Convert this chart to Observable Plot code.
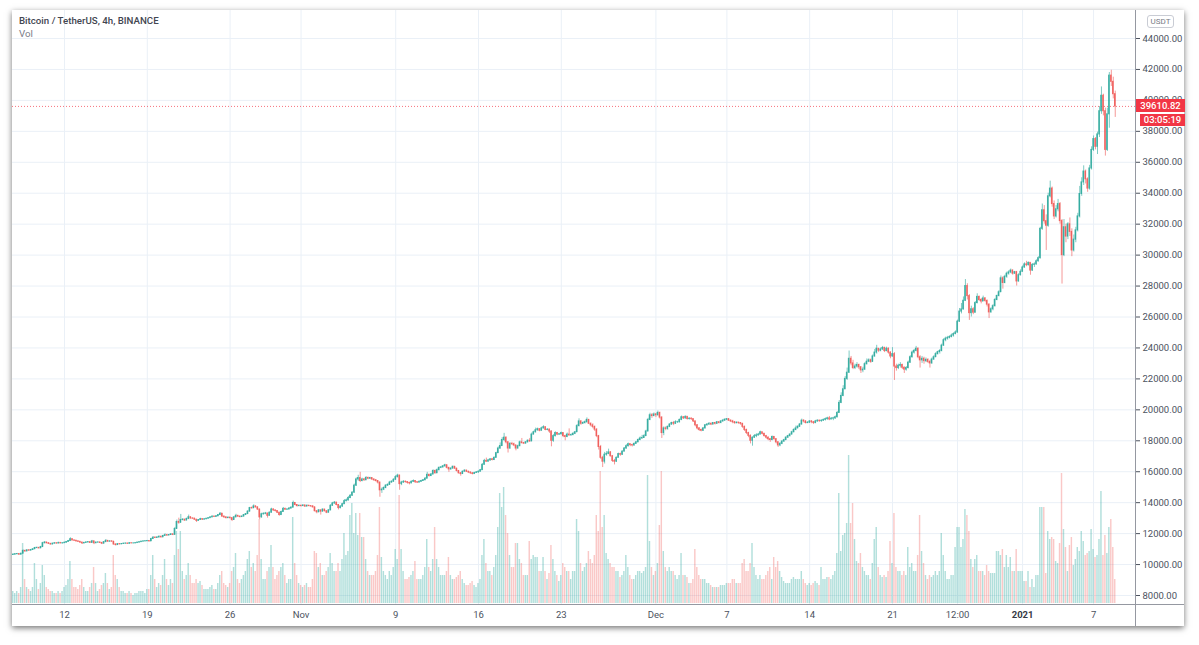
<!DOCTYPE html>
<html>
<head>
<meta charset="utf-8">
<script src="https://cdn.jsdelivr.net/npm/d3@7"></script>
<script src="https://cdn.jsdelivr.net/npm/@observablehq/plot@0.6"></script>
<style>
  html, body { margin:0; padding:0; background:#ffffff; }
  body { width:1199px; height:645px; position:relative; overflow:hidden; font-family: Roboto, "Noto Sans", Arial, sans-serif; }
  #card { position:absolute; left:12px; top:10px; width:1172px; height:616px; background:#fff; box-shadow: 0 2px 6px rgba(0,0,0,0.55); }
  .layer { position:absolute; left:0; top:0; width:1199px; height:645px; }
  .layer svg { background: transparent !important; max-width:none !important; display:block; }
  #axisLineV { position:absolute; left:1135px; top:10px; width:1px; height:616px; background:#9598a1; }
  #axisLineH { position:absolute; left:12px; top:604px; width:1172px; height:1px; background:#9598a1; }
  #title { position:absolute; left:19px; top:15px; font-size:9.7px; color:#434651; font-weight:500; white-space:nowrap; }
  #volLabel { position:absolute; left:19px; top:28px; font-size:9.7px; color:#787b86; }
  #usdt { position:absolute; left:1147px; top:15px; width:25px; height:11px; border:1px solid #c9ccd4; border-radius:3px; font-size:8px; line-height:11px; color:#787b86; text-align:center; background:#fff; }
  .tag { position:absolute; background:#f23645; color:#fff; font-size:9.5px; font-weight:500; text-align:center; white-space:nowrap; }
</style>
</head>
<body>
<div id="card"></div>
<div id="gridLayer" class="layer"></div>
<div id="volLayer" class="layer"></div>
<div id="axisLineV"></div>
<div id="axisLineH"></div>
<div id="priceLayer" class="layer"></div>
<div id="title">Bitcoin / TetherUS, 4h, BINANCE</div>
<div id="volLabel">Vol</div>
<div id="usdt">USDT</div>
<script>
// ---------------- data ----------------
const startTime = "2020-10-07T16:00:00Z"; // first 4h bar
const firstOpen = 10620;
const lastPrice = 39610.82;
const countdown = "03:05:19";

const closes = [
// Oct 7
10640,10670,
// Oct 8
10680,10640,10700,10880,10850,10920,
// Oct 9
10900,10940,10990,11070,11080,11050,
// Oct 10
11130,11380,11420,11380,11340,11300,
// Oct 11
11350,11380,11360,11400,11370,11380,
// Oct 12
11410,11460,11520,11640,11560,11540,
// Oct 13
11500,11470,11420,11370,11400,11430,
// Oct 14
11450,11400,11500,11380,11420,11430,
// Oct 15
11400,11350,11450,11530,11480,11500,
// Oct 16
11480,11300,11260,11320,11310,11330,
// Oct 17
11350,11360,11340,11380,11370,11370,
// Oct 18
11390,11420,11450,11480,11500,11510,
// Oct 19
11520,11500,11650,11740,11720,11750,
// Oct 20
11800,11760,11850,11900,11880,11910,
// Oct 21
11950,11920,12300,12750,12700,12880,
// Oct 22
12900,12850,12950,13060,12980,12970,
// Oct 23
12900,12820,12880,12940,12900,12930,
// Oct 24
12960,13000,13050,13100,13080,13120,
// Oct 25
13200,13290,13100,13050,13000,13030,
// Oct 26
13000,12880,13050,13150,13100,13070,
// Oct 27
13100,13200,13260,13420,13650,13640,
// Oct 28
13760,13700,13560,13050,13250,13280,
// Oct 29
13300,13150,13350,13560,13500,13460,
// Oct 30
13350,13200,13400,13600,13550,13560,
// Oct 31
13620,13680,13980,13850,13780,13800,
// Nov 1
13780,13820,13750,13800,13780,13760,
// Nov 2
13700,13450,13380,13500,13420,13550,
// Nov 3
13450,13350,13500,13800,13950,14000,
// Nov 4
13850,13650,13750,13900,14100,14150,
// Nov 5
14300,14450,14650,15100,15500,15590,
// Nov 6
15400,15500,15450,15600,15550,15590,
// Nov 7
15500,15450,15400,15300,14800,14840,
// Nov 8
14950,15100,15150,15300,15350,15480,
// Nov 9
15650,15750,15200,15300,15350,15330,
// Nov 10
15280,15250,15350,15400,15320,15300,
// Nov 11
15350,15400,15450,15550,15800,15720,
// Nov 12
15820,16050,15900,16100,16250,16280,
// Nov 13
16350,16420,16250,16150,16200,16320,
// Nov 14
16200,16050,15900,15850,16000,16070,
// Nov 15
16000,15950,15900,15850,15920,15960,
// Nov 16
16000,16100,16450,16700,16650,16730,
// Nov 17
16800,16760,16900,17200,17500,17660,
// Nov 18
18050,18200,17900,17500,17800,17780,
// Nov 19
17700,17500,17650,17900,17850,17820,
// Nov 20
17900,18000,17960,18400,18550,18680,
// Nov 21
18750,18650,18800,18880,18700,18720,
// Nov 22
18600,18000,18300,18500,18400,18420,
// Nov 23
18500,18300,18250,18400,18350,18370,
// Nov 24
18450,18550,18950,19250,19100,19150,
// Nov 25
19200,19350,19100,19000,18900,18720,
// Nov 26
18300,17600,16900,16650,17100,17150,
// Nov 27
17250,17000,16700,16650,16900,17140,
// Nov 28
17100,17300,17500,17650,17780,17720,
// Nov 29
17700,17800,17900,18050,18150,18180,
// Nov 30
18300,18600,19350,19650,19600,19700,
// Dec 1
19650,19800,19500,18500,18800,18770,
// Dec 2
18900,19050,19150,19100,19200,19200,
// Dec 3
19350,19520,19450,19550,19400,19430,
// Dec 4
19400,19250,19000,18800,18700,18650,
// Dec 5
18800,19000,19050,19100,19050,19150,
// Dec 6
19100,19200,19150,19250,19300,19360,
// Dec 7
19400,19300,19250,19200,19150,19170,
// Dec 8
19150,19100,18900,18700,18500,18320,
// Dec 9
18000,18200,18300,18350,18400,18550,
// Dec 10
18450,18300,18200,18100,18050,18250,
// Dec 11
18100,17900,17700,17800,17950,18040,
// Dec 12
18200,18300,18400,18550,18700,18800,
// Dec 13
18900,19050,19300,19250,19150,19170,
// Dec 14
19250,19200,19150,19250,19300,19270,
// Dec 15
19300,19350,19400,19450,19380,19430,
// Dec 16
19450,19520,19800,20450,20900,21330,
// Dec 17
22000,22400,23300,23000,22700,22800,
// Dec 18
22900,22750,22550,22600,22950,23110,
// Dec 19
23200,23100,23450,23700,23950,23820,
// Dec 20
23900,24000,23800,23950,23700,23450,
// Dec 21
23600,22800,22700,22850,22900,22720,
// Dec 22
22600,22700,23050,23400,23700,23810,
// Dec 23
23950,23400,23200,23300,23150,23230,
// Dec 24
23100,23000,23250,23400,23600,23730,
// Dec 25
23800,24150,24500,24600,24650,24710,
// Dec 26
24800,24900,25000,25700,26350,26490,
// Dec 27
27050,28000,27350,26250,26500,26280,
// Dec 28
26900,27300,27100,27000,27200,27040,
// Dec 29
26800,26300,26500,26700,27100,27360,
// Dec 30
27600,28500,28200,28600,28800,28880,
// Dec 31
29000,28800,28900,28300,28700,28920,
// Jan 1
29200,29400,29350,29500,29000,29370,
// Jan 2
29400,29600,29800,31700,32900,32190,
// Jan 3
31900,33800,34300,33300,32500,32960,
// Jan 4
33300,32200,30000,31800,31200,31990,
// Jan 5
31500,30300,31000,31600,32500,33950,
// Jan 6
34700,35400,34900,34300,35600,36800,
// Jan 7
37500,37000,37800,39300,40300,39300,
// Jan 8
36800,39100,41600,41200,40400,39610.82
];

const highs = [
// Oct 7
10690,10700,
// Oct 8
10720,10700,10730,10950,10930,10950,
// Oct 9
10960,10980,11020,11110,11120,11100,
// Oct 10
11180,11440,11490,11450,11410,11360,
// Oct 11
11380,11410,11400,11440,11420,11410,
// Oct 12
11450,11490,11560,11730,11660,11590,
// Oct 13
11560,11520,11480,11440,11430,11460,
// Oct 14
11480,11470,11560,11520,11450,11460,
// Oct 15
11450,11420,11480,11620,11560,11530,
// Oct 16
11530,11490,11330,11360,11350,11360,
// Oct 17
11380,11390,11380,11420,11400,11390,
// Oct 18
11410,11440,11470,11500,11530,11540,
// Oct 19
11560,11550,11700,11800,11780,11790,
// Oct 20
11840,11820,11880,11990,11950,11940,
// Oct 21
12000,11980,12400,12880,13000,13240,
// Oct 22
12970,12930,13000,13200,13080,13020,
// Oct 23
12990,12920,12910,12990,12960,12960,
// Oct 24
12990,13030,13090,13140,13130,13170,
// Oct 25
13240,13350,13300,13130,13080,13070,
// Oct 26
13060,13020,13100,13250,13180,13130,
// Oct 27
13150,13240,13300,13480,13700,13720,
// Oct 28
13860,13790,13720,13580,13320,13340,
// Oct 29
13370,13320,13400,13640,13600,13530,
// Oct 30
13480,13380,13450,13690,13640,13600,
// Oct 31
13680,13720,14100,14000,13880,13840,
// Nov 1
13830,13860,13840,13850,13830,13800,
// Nov 2
13800,13710,13480,13560,13530,13600,
// Nov 3
13580,13470,13560,13870,14020,14070,
// Nov 4
14030,13880,13800,13960,14200,14240,
// Nov 5
14400,14520,14700,15200,15600,15770,
// Nov 6
15960,15580,15560,15680,15650,15640,
// Nov 7
15620,15540,15500,15430,15330,14950,
// Nov 8
15020,15160,15220,15380,15420,15550,
// Nov 9
15750,15840,15780,15380,15420,15400,
// Nov 10
15360,15320,15400,15470,15420,15360,
// Nov 11
15400,15450,15500,15620,15960,15830,
// Nov 12
15880,16120,16100,16180,16300,16340,
// Nov 13
16400,16480,16440,16280,16260,16360,
// Nov 14
16340,16220,16080,15950,16050,16120,
// Nov 15
16100,16030,15980,15940,15960,16000,
// Nov 16
16050,16150,16520,16800,16880,16800,
// Nov 17
16850,16860,16950,17260,17600,17860,
// Nov 18
18200,18480,18250,17950,17880,17900,
// Nov 19
17850,17720,17720,17980,18150,17900,
// Nov 20
17950,18060,18150,18500,18620,18820,
// Nov 21
18820,18780,18880,18970,18900,18780,
// Nov 22
18760,18640,18400,18580,18540,18480,
// Nov 23
18560,18520,18360,18500,18770,18440,
// Nov 24
18520,18600,19050,19420,19300,19220,
// Nov 25
19280,19480,19380,19150,19100,18950,
// Nov 26
18780,18350,17700,17000,17250,17300,
// Nov 27
17460,17300,17050,16800,16950,17200,
// Nov 28
17200,17350,17560,17750,17850,17800,
// Nov 29
17780,17850,17960,18120,18250,18350,
// Nov 30
18400,18680,19450,19780,19760,19800,
// Dec 1
19760,19920,19850,19550,18900,18900,
// Dec 2
18950,19100,19200,19250,19300,19260,
// Dec 3
19400,19600,19560,19600,19560,19480,
// Dec 4
19480,19420,19280,19050,18850,18750,
// Dec 5
18850,19050,19100,19170,19140,19170,
// Dec 6
19180,19250,19230,19300,19380,19420,
// Dec 7
19420,19420,19350,19320,19250,19220,
// Dec 8
19200,19180,19120,18950,18750,18550,
// Dec 9
18380,18250,18400,18450,18480,18620,
// Dec 10
18560,18480,18350,18250,18150,18300,
// Dec 11
18270,18150,17950,17880,18000,18100,
// Dec 12
18260,18350,18450,18620,18780,18950,
// Dec 13
18980,19120,19400,19360,19300,19240,
// Dec 14
19300,19300,19250,19320,19350,19330,
// Dec 15
19350,19400,19470,19520,19570,19500,
// Dec 16
19520,19600,19900,20600,21100,21560,
// Dec 17
22150,22700,23800,23450,23200,22950,
// Dec 18
23050,22950,22800,22750,23050,23290,
// Dec 19
23300,23280,23550,23900,24170,23960,
// Dec 20
24000,24100,24050,24050,24000,23750,
// Dec 21
24020,23700,22950,22950,23050,22950,
// Dec 22
22780,22800,23150,23500,23800,23900,
// Dec 23
24100,24000,23500,23450,23400,23350,
// Dec 24
23300,23200,23350,23500,23700,23790,
// Dec 25
23900,24250,24600,24700,24750,24790,
// Dec 26
24900,24980,25100,25800,26550,26870,
// Dec 27
27300,28420,28150,27450,26700,26600,
// Dec 28
27000,27500,27350,27200,27350,27250,
// Dec 29
27100,26850,26600,26800,27200,27410,
// Dec 30
27700,28650,28600,28700,28900,28990,
// Dec 31
29100,29050,28950,28950,28800,29050,
// Jan 1
29300,29500,29600,29550,29500,29450,
// Jan 2
29500,29700,29900,31800,33300,33200,
// Jan 3
32600,34000,34780,34400,33500,33200,
// Jan 4
33600,33400,32300,32300,32000,32100,
// Jan 5
32400,31700,31300,31800,32700,34440,
// Jan 6
35000,35770,35500,35000,35800,37000,
// Jan 7
37700,37600,37950,39600,40870,40400,
// Jan 8
39500,39500,41800,41950,41500,40600
];

const lows = [
// Oct 7
10600,10620,
// Oct 8
10640,10600,10620,10690,10800,10830,
// Oct 9
10860,10880,10920,10970,11020,11010,
// Oct 10
11030,11120,11340,11340,11300,11260,
// Oct 11
11280,11330,11320,11340,11340,11330,
// Oct 12
11360,11390,11440,11500,11530,11490,
// Oct 13
11460,11430,11380,11300,11340,11380,
// Oct 14
11400,11370,11390,11290,11350,11390,
// Oct 15
11360,11290,11330,11420,11440,11450,
// Oct 16
11440,11250,11200,11240,11270,11290,
// Oct 17
11300,11320,11310,11320,11340,11340,
// Oct 18
11350,11370,11400,11430,11460,11470,
// Oct 19
11480,11460,11490,11630,11680,11700,
// Oct 20
11730,11720,11740,11820,11820,11850,
// Oct 21
11880,11870,11900,12280,12600,12680,
// Oct 22
12820,12790,12820,12900,12930,12920,
// Oct 23
12860,12720,12800,12860,12850,12880,
// Oct 24
12900,12940,12990,13030,13040,13060,
// Oct 25
13100,13180,13060,13000,12960,12980,
// Oct 26
12950,12780,12860,13030,13060,13020,
// Oct 27
13040,13080,13180,13240,13400,13580,
// Oct 28
13620,13650,13500,12900,13000,13200,
// Oct 29
13220,13000,13130,13320,13440,13400,
// Oct 30
13300,13130,13190,13380,13500,13500,
// Oct 31
13540,13600,13660,13800,13720,13740,
// Nov 1
13720,13760,13700,13730,13740,13700,
// Nov 2
13650,13400,13280,13350,13200,13400,
// Nov 3
13400,13290,13330,13480,13760,13900,
// Nov 4
13800,13530,13600,13700,13880,14050,
// Nov 5
14100,14260,14400,14600,15050,15380,
// Nov 6
15300,15350,15380,15420,15480,15500,
// Nov 7
15450,15380,15330,15200,14350,14600,
// Nov 8
14780,14900,15050,15120,15260,15330,
// Nov 9
15450,15600,14800,15100,15250,15270,
// Nov 10
15200,15150,15220,15300,15250,15240,
// Nov 11
15280,15320,15380,15420,15540,15660,
// Nov 12
15700,15800,15850,15880,16060,16200,
// Nov 13
16240,16300,16180,15960,16100,16180,
// Nov 14
16150,15980,15850,15710,15820,15980,
// Nov 15
15950,15880,15830,15800,15830,15890,
// Nov 16
15900,15980,16080,16420,16600,16620,
// Nov 17
16680,16700,16720,16880,17180,17450,
// Nov 18
17640,17950,17800,17210,17450,17700,
// Nov 19
17620,17350,17460,17620,17800,17760,
// Nov 20
17780,17860,17900,17940,18380,18500,
// Nov 21
18620,18580,18620,18760,18650,18650,
// Nov 22
18480,17610,17900,18250,18330,18350,
// Nov 23
18380,18200,18000,18200,18300,18300,
// Nov 24
18330,18400,18540,18900,19000,19050,
// Nov 25
19080,19150,19050,18900,18780,18600,
// Nov 26
18200,17400,16800,16270,16500,17000,
// Nov 27
17100,16950,16600,16440,16600,16880,
// Nov 28
17000,17050,17280,17450,17600,17620,
// Nov 29
17600,17650,17780,17880,18000,18100,
// Nov 30
18150,18280,18580,19300,19450,19550,
// Dec 1
19500,19600,19400,18150,18330,18650,
// Dec 2
18680,18850,19000,18980,19050,19120,
// Dec 3
19150,19300,19380,19400,19350,19350,
// Dec 4
19320,19180,18900,18700,18600,18580,
// Dec 5
18600,18760,18950,19000,18980,19020,
// Dec 6
19020,19050,19080,19100,19200,19260,
// Dec 7
19300,19250,19180,19100,19050,19080,
// Dec 8
19050,19000,18800,18600,18400,18200,
// Dec 9
17800,17650,18150,18200,18300,18380,
// Dec 10
18380,18250,18100,18000,17900,18000,
// Dec 11
18050,17800,17570,17620,17750,17900,
// Dec 12
18020,18150,18250,18380,18520,18650,
// Dec 13
18780,18880,19020,19150,19080,19100,
// Dec 14
19120,19100,19050,19100,19200,19200,
// Dec 15
19200,19250,19280,19330,19300,19350,
// Dec 16
19300,19380,19480,19780,20400,20850,
// Dec 17
21300,21900,22350,22850,22600,22600,
// Dec 18
22700,22600,22350,22400,22550,22900,
// Dec 19
23050,23000,23080,23400,23600,23700,
// Dec 20
23750,23850,23700,23750,23600,23300,
// Dec 21
23400,21900,22500,22600,22700,22600,
// Dec 22
22350,22500,22650,23000,23350,23600,
// Dec 23
23750,23300,22700,23000,22950,23050,
// Dec 24
23000,22700,22950,23200,23380,23550,
// Dec 25
23600,23750,24100,24400,24500,24580,
// Dec 26
24650,24700,24850,24950,25650,26200,
// Dec 27
26450,27000,27100,25780,26000,26150,
// Dec 28
26250,26850,27000,26850,27000,26950,
// Dec 29
26650,25900,26250,26400,26650,27050,
// Dec 30
27300,27580,27800,28150,28500,28700,
// Dec 31
28800,28700,28750,28000,28250,28650,
// Jan 1
28900,29150,29250,29300,28700,28950,
// Jan 2
29200,29350,29550,29750,31600,32000,
// Jan 3
30300,31800,33700,33100,32300,32400,
// Jan 4
32800,32000,28130,29900,30800,31000,
// Jan 5
31200,29900,30200,30800,31500,32400,
// Jan 6
33800,34500,34600,34060,34200,35500,
// Jan 7
36700,36800,36500,37600,39100,39000,
// Jan 8
36400,36700,38200,40900,40100,38900
];

// volume per 4h bar, thousand BTC
const volumes = [
// Oct 7
3,2.5,
// Oct 8
3,2.5,4,15,6,4,
// Oct 9
3.5,3,4,10,6,3.5,
// Oct 10
5,9.5,7,4,3.5,3,
// Oct 11
3,2.5,2.5,3,2.5,3,
// Oct 12
4,4.5,6,10.5,6,4,
// Oct 13
4,3.5,4.5,6,4,3,
// Oct 14
3,4,5,9,5,3,
// Oct 15
3.5,4.5,5,7.5,5,3.5,
// Oct 16
4,12,7,6,4,3,
// Oct 17
3,2.5,2.5,3,2.5,2,
// Oct 18
2.5,2.5,3,3,3,2.5,
// Oct 19
3.5,3.5,7,12,6,4,
// Oct 20
5,4.5,7,11,6,4.5,
// Oct 21
6,5,12,18,13.5,18,
// Oct 22
8,6,7,10,7,5,
// Oct 23
5,6,5,5.5,4.5,3.5,
// Oct 24
3.5,3.5,4,4.5,3.5,3.5,
// Oct 25
5,7,8,5,4.5,4,
// Oct 26
5,8,9,12.5,6,5,
// Oct 27
6,7,8,11,13,9,
// Oct 28
10,8,12,21,11,6,
// Oct 29
6,8,9,14.5,9,6,
// Oct 30
7,8,9,10,7,5,
// Oct 31
6,6,21.5,10,7,5,
// Nov 1
4.5,4,4.5,5,4,4,
// Nov 2
6,13,12.5,9,10,7,
// Nov 3
7,8,9,12.5,10,8,
// Nov 4
8,10,8,11,17.5,12,
// Nov 5
13,22,25,17.5,22.5,17,
// Nov 6
22.5,16.5,16.5,11,8,7,
// Nov 7
7,7,8,12,24,11.5,
// Nov 8
8,7,6,8,7,9,
// Nov 9
13.5,11,27,13.5,8,6,
// Nov 10
6,6.5,7,8,10.5,6,
// Nov 11
6,6,7,9,16,9,
// Nov 12
8,11,19,11,9,7,
// Nov 13
7,7,8,11.5,7,6,
// Nov 14
6,6.5,7,8,6,5,
// Nov 15
4.5,4.5,5,5.5,4.5,4,
// Nov 16
5,6,12,16,10,8,
// Nov 17
8,7,9,12,19,27.5,
// Nov 18
24,29,22,17.5,12,9,
// Nov 19
9,15,15,11,10,7,
// Nov 20
7,7,15.5,11,12,11.5,
// Nov 21
11.5,8,8,11.5,8,6,
// Nov 22
7.5,14.5,11,8,7,5.5,
// Nov 23
7,10,9,8,8,6,
// Nov 24
8,8,21,18,10,8,
// Nov 25
9,10,13,11,10,12,
// Nov 26
22,18,33,19,22,12.5,
// Nov 27
11,10,9,9,8,8,
// Nov 28
6.5,7,8,12,9,7,
// Nov 29
6,6,7,8,8,7.5,
// Nov 30
8,9,32,15.5,9,7,
// Dec 1
8,10,19.5,33,13,9,
// Dec 2
8,9,8,8,7,6,
// Dec 3
7,12.5,7,7,6.5,5,
// Dec 4
5,6,13.5,9,7,6,
// Dec 5
6,6,5,5,4.5,4,
// Dec 6
4,4,4,4.5,4.5,4.5,
// Dec 7
5,5,5,6,6,5,
// Dec 8
5,5,10,11,8,8,
// Dec 9
10,15,9,7,6,7,
// Dec 10
6,6,7,8,9,6,
// Dec 11
11.5,9,10.5,8,6.5,5.5,
// Dec 12
5,5,5,6,6.5,6,
// Dec 13
6,6,8,6,5,4.5,
// Dec 14
5,4.5,5,5.5,5,4.5,
// Dec 15
9,6,6,6.5,6.5,6,
// Dec 16
7,8,12.5,27.5,13,17,
// Dec 17
17.5,20,37,20,25,16,
// Dec 18
10.5,10,12.5,9,8,7,
// Dec 19
7,6,10,16,19,9,
// Dec 20
7,6.5,7,6.5,8,15.5,
// Dec 21
10,22.5,9,8,8,7,
// Dec 22
8,7,14,9,10,8,
// Dec 23
8,12,22,13,10,7,
// Dec 24
6,7,6.5,7,8,7,
// Dec 25
8,17.5,12,8,6,6,
// Dec 26
7,7,14,19,19,14,
// Dec 27
16,23.5,22,18,11,9,
// Dec 28
11,12,8,8,8,7,
// Dec 29
9.5,8,7.5,7.5,7.5,13,
// Dec 30
13,12,13.5,9,12,9,
// Dec 31
11.5,8,8,13.5,8,8,
// Jan 1
8,5.5,5.5,8,4,6,
// Jan 2
4,7,7,24,24,24,
// Jan 3
7.5,18,16,16.5,16,10.5,
// Jan 4
10,15,32.5,18.5,14,8,
// Jan 5
14.5,16.5,9.5,11,14,13,
// Jan 6
18,15.5,12,12.5,13,18.5,
// Jan 7
13.5,11.5,12,16,28,12,
// Jan 8
17,12.5,19,21,14,6
];

const priceTicks = [8000,10000,12000,14000,16000,18000,20000,22000,24000,26000,28000,30000,32000,34000,36000,38000,40000,42000,44000];
const timeTicks = ["2020-10-12T00:00Z","2020-10-19T00:00Z","2020-10-26T00:00Z","2020-11-01T00:00Z","2020-11-09T00:00Z","2020-11-16T00:00Z","2020-11-23T00:00Z","2020-12-01T00:00Z","2020-12-07T00:00Z","2020-12-14T00:00Z","2020-12-21T00:00Z","2020-12-26T12:00Z","2021-01-01T00:00Z","2021-01-07T00:00Z"];
const timeLabels = ["12","19","26","Nov","9","16","23","Dec","7","14","21","12:00","2021","7"];

// ---------------- chart ----------------
const W = 1199, H = 645;
const M = {marginLeft: 12, marginRight: 64, marginTop: 10, marginBottom: 40};
const UP = "#26a69a", DOWN = "#ef5350", GRID = "#eaf0f7", TEXT = "#4c525e";
const HOUR = 3600e3;
const xScale = {type: "utc", domain: [new Date("2020-10-07T14:30:00Z"), new Date("2021-01-10T13:06:00Z")], axis: null};
const yScale = {domain: [7354, 45810], axis: null};

const t0 = Date.parse(startTime);
const candles = closes.map((close, i) => {
  const open = i === 0 ? firstOpen : closes[i - 1];
  const t = t0 + i * 4 * HOUR;
  return {
    time: new Date(t),
    bx1: new Date(t - 1.5 * HOUR), bx2: new Date(t + 1.5 * HOUR),
    vx1: new Date(t - 1.45 * HOUR), vx2: new Date(t + 1.45 * HOUR),
    open, close,
    high: Math.max(highs[i], open, close),
    low: Math.min(lows[i], open, close),
    volume: volumes[i],
    up: close >= open
  };
});
const ups = candles.filter(d => d.up), downs = candles.filter(d => !d.up);
const tickData = timeTicks.map((d, i) => ({date: new Date(d), label: timeLabels[i]}));

const baseStyle = {background: "transparent", fontFamily: "Roboto, 'Noto Sans', Arial, sans-serif", overflow: "visible"};

// layer 1: grid
const gridPlot = Plot.plot({
  width: W, height: H, ...M, style: baseStyle,
  x: xScale, y: yScale,
  marks: [
    Plot.ruleX(tickData, {x: "date", stroke: GRID, strokeWidth: 1}),
    Plot.ruleY(priceTicks, {y: d => d, stroke: GRID, strokeWidth: 1})
  ]
});
document.getElementById("gridLayer").append(gridPlot);

// layer 2: volume
const volPlot = Plot.plot({
  width: W, height: H, ...M, style: baseStyle,
  x: xScale,
  y: {domain: [0, 150], range: [603, 3], axis: null},
  marks: [
    Plot.rect(ups, {x1: "vx1", x2: "vx2", y1: d => 0, y2: "volume", fill: UP, fillOpacity: 0.36}),
    Plot.rect(downs, {x1: "vx1", x2: "vx2", y1: d => 0, y2: "volume", fill: DOWN, fillOpacity: 0.32})
  ]
});
document.getElementById("volLayer").append(volPlot);

// layer 3: candles + axes
const pricePlot = Plot.plot({
  width: W, height: H, ...M, style: baseStyle,
  x: xScale, y: yScale,
  marks: [
    Plot.ruleY([lastPrice], {y: d => d, stroke: "#f23645", strokeOpacity: 0.7, strokeWidth: 1, strokeDasharray: "1,2"}),
    Plot.ruleX(ups, {x: "time", y1: "low", y2: "high", stroke: UP, strokeOpacity: 0.75, strokeWidth: 0.8}),
    Plot.ruleX(downs, {x: "time", y1: "low", y2: "high", stroke: DOWN, strokeOpacity: 0.75, strokeWidth: 0.8}),
    Plot.rect(ups, {x1: "bx1", x2: "bx2", y1: "open", y2: "close", fill: UP, fillOpacity: 0.88, insetTop: -0.5, insetBottom: -0.5}),
    Plot.rect(downs, {x1: "bx1", x2: "bx2", y1: "open", y2: "close", fill: DOWN, fillOpacity: 0.88, insetTop: -0.5, insetBottom: -0.5}),
    Plot.axisY(priceTicks, {anchor: "right", tickSize: 4, tickPadding: 3, tickFormat: d => d.toFixed(2), fontSize: 9.5, color: TEXT, label: null}),
    Plot.text(tickData.filter(d => d.label !== "2021"), {x: "date", text: "label", frameAnchor: "bottom", dy: 12, fontSize: 9.5, fill: TEXT}),
    Plot.text(tickData.filter(d => d.label === "2021"), {x: "date", text: "label", frameAnchor: "bottom", dy: 12, fontSize: 9.5, fontWeight: "bold", fill: "#363a45"})
  ]
});
document.getElementById("priceLayer").append(pricePlot);

// price tag + countdown positioned with the price scale
const yPx = pricePlot.scale("y").apply(lastPrice);
const tag = document.createElement("div");
tag.className = "tag";
tag.textContent = lastPrice.toFixed(2);
Object.assign(tag.style, {left: "1136px", top: (yPx - 6.5) + "px", width: "49px", height: "13px", lineHeight: "13px"});
document.body.append(tag);
const timer = document.createElement("div");
timer.className = "tag";
timer.textContent = countdown;
Object.assign(timer.style, {left: "1140px", top: (yPx + 8.5) + "px", width: "45px", height: "12px", lineHeight: "12px"});
document.body.append(timer);
</script>
</body>
</html>
